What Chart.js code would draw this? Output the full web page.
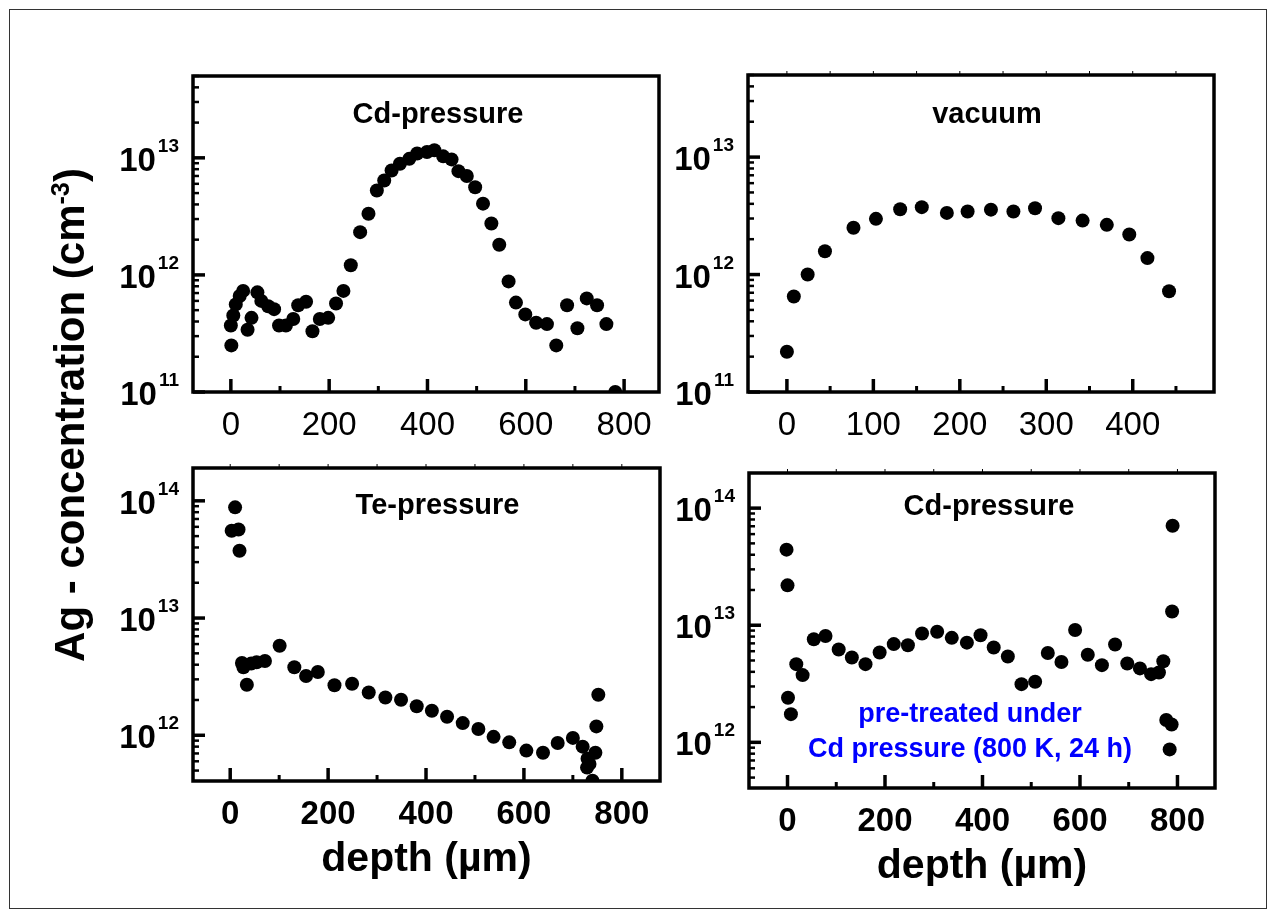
<!DOCTYPE html>
<html>
<head>
<meta charset="utf-8">
<script src="https://cdn.jsdelivr.net/npm/chart.js@4.4.1/dist/chart.umd.min.js"></script>
<style>
  html, body { margin: 0; padding: 0; background: #fff; }
  #wrap { position: relative; width: 1274px; height: 917px; overflow: hidden; }
  #wrap canvas { position: absolute; left: 0; top: 0; }
  #border { position: absolute; left: 9px; top: 9px; width: 1258px; height: 900px;
            border: 1.5px solid #333; box-sizing: border-box; }
  #ytitle { position: absolute; left: -274px; top: 385px; width: 700px; height: 60px;
            line-height: 60px; text-align: center; transform: rotate(-90deg);
            font: bold 42px "Liberation Sans", Arial, sans-serif; color: #000; white-space: nowrap; }
  #ytitle sup { font-size: 60%; vertical-align: 15px; line-height: 0; }
</style>
</head>
<body>
<div id="wrap">
  <div id="border"></div>
  <canvas id="c1" width="1274" height="917"></canvas>
  <canvas id="c2" width="1274" height="917"></canvas>
  <canvas id="c3" width="1274" height="917"></canvas>
  <canvas id="c4" width="1274" height="917"></canvas>
  <div id="ytitle">Ag - concentration (cm<sup>-3</sup>)</div>
</div>
<script>
// depth in µm, Ag concentration in cm^-3

// top left: Cd-pressure
const cdDepth = [0, 1, 5, 10, 18, 25, 34, 42, 54, 62, 76, 88, 98, 112, 127, 137, 153, 166, 181, 198,
  214, 229, 244, 263, 280, 297, 312, 327, 344, 363, 379, 399, 414, 432, 449, 463, 480, 497, 513, 530,
  546, 565, 580, 599, 621, 643, 662, 684, 705, 724, 745, 764, 782];
const cdConc = [3.7e11, 2.5e11, 4.5e11, 5.6e11, 6.6e11, 7.3e11, 3.4e11, 4.3e11, 7.1e11, 6.0e11,
  5.4e11, 5.1e11, 3.7e11, 3.7e11, 4.2e11, 5.5e11, 5.9e11, 3.3e11, 4.2e11, 4.3e11,
  5.7e11, 7.3e11, 1.21e12, 2.32e12, 3.33e12, 5.26e12, 6.4e12, 7.8e12, 8.9e12, 9.8e12,
  1.09e13, 1.12e13, 1.16e13, 1.03e13, 9.7e12, 7.7e12, 7.0e12, 5.6e12, 4.06e12, 2.75e12,
  1.81e12, 8.8e11, 5.8e11, 4.6e11, 3.9e11, 3.8e11, 2.5e11, 5.5e11, 3.5e11, 6.3e11,
  5.5e11, 3.8e11, 1.0e11];

// top right: vacuum
const vacDepth = [0, 8, 24, 44, 77, 103, 131, 156, 185, 209, 236, 262, 287, 314, 342, 370, 396, 417, 442];
const vacConc = [2.2e11, 6.5e11, 1.0e12, 1.58e12, 2.5e12, 2.98e12, 3.6e12, 3.75e12, 3.35e12, 3.44e12,
  3.57e12, 3.44e12, 3.67e12, 3.02e12, 2.88e12, 2.65e12, 2.19e12, 1.38e12, 7.2e11];

// bottom left: Te-pressure
const teDepth = [3, 10, 17, 19, 24, 27, 34, 43, 54, 71, 101, 131, 155, 179, 213, 249, 283, 317, 349, 381,
  412, 443, 475, 507, 538, 570, 605, 639, 669, 700, 720, 729, 734, 730, 740, 746, 748, 752];
const teConc = [5.56e13, 8.8e13, 5.7e13, 3.75e13, 4.13e12, 3.8e12, 2.7e12, 4.1e12, 4.2e12, 4.3e12,
  5.8e12, 3.8e12, 3.2e12, 3.47e12, 2.67e12, 2.75e12, 2.32e12, 2.1e12, 2.01e12, 1.77e12,
  1.62e12, 1.44e12, 1.27e12, 1.13e12, 9.7e11, 8.7e11, 7.4e11, 7.1e11, 8.6e11, 9.5e11,
  8.0e11, 5.3e11, 5.7e11, 6.3e11, 4.1e11, 7.1e11, 1.19e12, 2.22e12];

// bottom right: Cd-pressure, pre-treated
const cd2Depth = [-2, 0, 1, 7, 18, 31, 54, 78, 105, 132, 160, 189, 218, 247, 276, 307, 337, 368, 396, 423,
  452, 480, 508, 534, 562, 590, 616, 645, 672, 697, 723, 746, 762, 771, 777, 788, 784, 789, 790];
const cd2Conc = [4.42e13, 2.19e13, 2.4e12, 1.74e12, 4.65e12, 3.75e12, 7.6e12, 8.1e12, 6.2e12, 5.3e12,
  4.65e12, 5.85e12, 6.9e12, 6.75e12, 8.5e12, 8.8e12, 7.8e12, 7.1e12, 8.2e12, 6.45e12,
  5.4e12, 3.14e12, 3.29e12, 5.8e12, 4.86e12, 9.1e12, 5.6e12, 4.56e12, 6.84e12, 4.71e12,
  4.28e12, 3.82e12, 3.95e12, 4.93e12, 1.55e12, 1.42e12, 8.7e11, 1.31e13, 7.08e13];

// axis ticks
const ticks800 = [0, 200, 400, 600, 800];
const minor800 = [100, 300, 500, 700];
const ticks400 = [0, 100, 200, 300, 400];
const minor400 = [50, 150, 250, 350, 450];
const decadesTop = [11, 12, 13];
const decadesBottom = [12, 13, 14];

const FONT = '"Liberation Sans", Arial, Helvetica, sans-serif';

function seg(ctx, x1, y1, x2, y2) {
  ctx.beginPath(); ctx.moveTo(x1, y1); ctx.lineTo(x2, y2); ctx.stroke();
}

// frame, inward ticks, tick labels and panel texts
const panelDecor = {
  id: 'panelDecor',
  afterDatasetsDraw(chart, args, o) {
    const { ctx, chartArea: a, scales: { x, y } } = chart;
    ctx.save();
    ctx.strokeStyle = '#000';
    ctx.fillStyle = '#000';

    // log minor/major ticks on left axis
    const lo = Math.floor(Math.log10(y.min)), hi = Math.ceil(Math.log10(y.max));
    for (let e = lo; e <= hi; e++) {
      for (let m = 1; m <= 9; m++) {
        const v = m * Math.pow(10, e);
        if (v < y.min * 0.999 || v > y.max * 1.001) continue;
        const py = y.getPixelForValue(v);
        ctx.lineWidth = m === 1 ? 3.5 : 2.5;
        seg(ctx, a.left, py, a.left + (m === 1 ? 12 : 6), py);
      }
    }
    // x ticks on bottom axis
    ctx.lineWidth = 3.5;
    o.xMajor.forEach(v => { const px = x.getPixelForValue(v); seg(ctx, px, a.bottom, px, a.bottom - 13); });
    ctx.lineWidth = 3;
    o.xMinor.forEach(v => { const px = x.getPixelForValue(v); seg(ctx, px, a.bottom, px, a.bottom - 6); });
    if (o.topTicks) {
      ctx.lineWidth = 1;
      o.xMajor.concat(o.xMinor).forEach(v => { const px = x.getPixelForValue(v); seg(ctx, px, a.top, px, a.top - 4); });
    }
    // frame
    ctx.lineWidth = 3.5;
    ctx.strokeRect(a.left, a.top, a.right - a.left, a.bottom - a.top);

    // x tick labels
    ctx.textAlign = 'center';
    ctx.textBaseline = 'alphabetic';
    ctx.font = (o.xBold ? 'bold ' : '') + '33px ' + FONT;
    o.xMajor.forEach(v => ctx.fillText(String(v), x.getPixelForValue(v), a.bottom + 43));

    // y tick labels 10^n
    o.decades.forEach(e => {
      const py = y.getPixelForValue(Math.pow(10, e));
      ctx.textAlign = 'right';
      ctx.font = 'bold 19px ' + FONT;
      const ex = String(e);
      const exRight = a.left - 14;
      ctx.fillText(ex, exRight, py - 6);
      const exW = ctx.measureText(ex).width;
      ctx.font = 'bold 33px ' + FONT;
      ctx.fillText('10', exRight - exW - 2, py + 13);
    });

    // panel title
    ctx.textAlign = 'center';
    ctx.font = 'bold 29px ' + FONT;
    ctx.fillText(o.title, (a.left + a.right) / 2 + o.titleDx, a.top + o.titleDy);

    // x axis title
    if (o.xTitle) {
      ctx.font = 'bold 41px ' + FONT;
      ctx.fillText(o.xTitle, (a.left + a.right) / 2, a.bottom + 90);
    }
    // note
    if (o.note) {
      ctx.fillStyle = '#0000ff';
      ctx.font = 'bold 27px ' + FONT;
      o.note.forEach((t, i) => ctx.fillText(t, (a.left + a.right) / 2 + o.noteDx, a.top + o.noteDy + i * 35));
    }
    ctx.restore();
  }
};

function makePanel(id, xs, ys, box, xr, yr, decor) {
  return new Chart(document.getElementById(id), {
    type: 'scatter',
    data: {
      datasets: [{
        data: xs.map((v, i) => ({ x: v, y: ys[i] })),
        backgroundColor: '#000',
        borderColor: '#000',
        pointRadius: 7,
        pointHoverRadius: 7,
        borderWidth: 0,
        clip: 0
      }]
    },
    options: {
      responsive: false,
      animation: false,
      events: [],
      layout: { padding: { left: box[0], top: box[1], right: 1274 - box[2], bottom: 917 - box[3] } },
      plugins: { legend: { display: false }, tooltip: { enabled: false }, panelDecor: decor },
      scales: {
        x: { type: 'linear', display: false, min: xr[0], max: xr[1] },
        y: { type: 'logarithmic', display: false, min: yr[0], max: yr[1] }
      }
    },
    plugins: [panelDecor]
  });
}

makePanel('c1', cdDepth, cdConc, [193, 76, 659, 392], [-77, 871], [1e11, 5e13], {
  xMajor: ticks800, xMinor: minor800, xBold: false, decades: decadesTop,
  title: 'Cd-pressure', titleDx: 12, titleDy: 47
});
makePanel('c2', vacDepth, vacConc, [748, 75, 1214, 392], [-45, 494], [1e11, 5e13], {
  xMajor: ticks400, xMinor: minor400, xBold: false, decades: decadesTop, topTicks: true,
  title: 'vacuum', titleDx: 6, titleDy: 48
});
makePanel('c3', teDepth, teConc, [193, 468, 660, 781], [-76, 878], [Math.pow(10, 11.61), Math.pow(10, 14.28)], {
  xMajor: ticks800, xMinor: minor800, xBold: true, decades: decadesBottom, topTicks: true,
  title: 'Te-pressure', titleDx: 11, titleDy: 46, xTitle: 'depth (µm)'
});
makePanel('c4', cd2Depth, cd2Conc, [749, 473, 1215, 788], [-79, 877], [Math.pow(10, 11.61), Math.pow(10, 14.30)], {
  xMajor: ticks800, xMinor: minor800, xBold: true, decades: decadesBottom, topTicks: true,
  title: 'Cd-pressure', titleDx: 7, titleDy: 42, xTitle: 'depth (µm)',
  note: ['pre-treated under', 'Cd pressure (800 K, 24 h)'], noteDx: -12, noteDy: 249
});
</script>
</body>
</html>
